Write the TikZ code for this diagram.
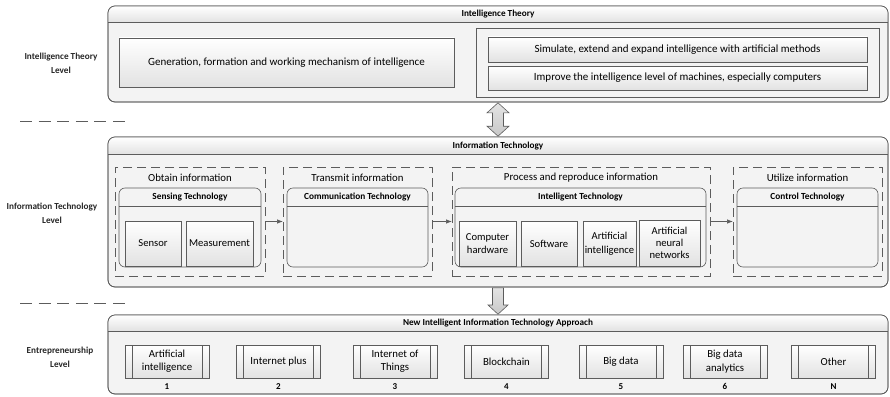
\documentclass[tikz,border=0pt]{standalone}
\usepackage{fontspec}
\setmainfont{Carlito}
\usetikzlibrary{arrows.meta,calc}
\definecolor{edge}{RGB}{92,92,92}
\definecolor{bodyfill}{RGB}{243,243,243}
\definecolor{shadelo}{RGB}{226,226,226}
\definecolor{arrowfill}{RGB}{200,200,200}
\begin{document}
\begin{tikzpicture}[x=1pt,y=-1pt,
  every node/.style={inner sep=0pt, outer sep=0pt, align=center},
  panel/.style={draw=edge, line width=0.7pt, rounded corners=7pt, fill=bodyfill, anchor=north west},
  paneltitle/.style={font=\fontsize{9.2}{10}\selectfont\bfseries},
  levellabel/.style={font=\fontsize{9.2}{13.5}\selectfont\bfseries, text=black!85},
  plainbox/.style={draw=edge, line width=0.6pt, top color=white, bottom color=shadelo, font=\fontsize{11}{13}\selectfont},
  groupbox/.style={draw=edge, line width=0.7pt, dash pattern=on 9pt off 5pt},
  grouptitle/.style={font=\fontsize{10.8}{12}\selectfont},
  techbox/.style={draw=edge, line width=0.6pt, rounded corners=6pt, fill=bodyfill},
  techtitle/.style={font=\fontsize{9.3}{10}\selectfont\bfseries},
  subbox/.style={draw=edge, line width=0.6pt, top color=white, bottom color=shadelo, font=\fontsize{10.6}{13.8}\selectfont},
  procbox/.style={draw=edge, line width=0.6pt, top color=white, bottom color=shadelo,
    minimum width=84pt, minimum height=33pt, font=\fontsize{10.8}{13.3}\selectfont,
    path picture={
      \draw[edge, line width=0.6pt]
        ([xshift=7pt]path picture bounding box.north west) -- ([xshift=7pt]path picture bounding box.south west)
        ([xshift=-7pt]path picture bounding box.north east) -- ([xshift=-7pt]path picture bounding box.south east);}},
  procnum/.style={font=\fontsize{9}{10}\selectfont\bfseries},
  flow/.style={draw=edge, line width=0.7pt, -{Latex[length=6pt,width=4.5pt]}},
  fatarrow/.style={draw=edge, line width=0.6pt, top color=arrowfill!50, bottom color=arrowfill},
  separator/.style={draw=edge, line width=0.8pt, dash pattern=on 12pt off 6.6pt}
]
\useasboundingbox (0,0) rectangle (890,396);

% ---------- three level panels ----------
\node[panel, minimum width=780pt, minimum height=96pt] (itp) at (108,6) {};
\node[panel, minimum width=780pt, minimum height=150pt] (itl) at (108,137) {};
\node[panel, minimum width=780pt, minimum height=79pt] (ent) at (108,315) {};

% shaded header strips
\foreach \p/\h in {itp/16.7, itl/17, ent/16}{
  \begin{scope}
    \clip[rounded corners=7pt] (\p.north west) rectangle (\p.south east);
    \shade[top color=white, bottom color=shadelo] (\p.north west) rectangle ($(\p.north east)+(0,\h)$);
  \end{scope}
  \draw[edge, line width=0.7pt, rounded corners=7pt] (\p.north west) rectangle (\p.south east);
  \draw[edge, line width=0.7pt] ($(\p.north west)+(0,\h)$) -- ($(\p.north east)+(0,\h)$);
}

\node[paneltitle] (itptitle) at (498,14.5) {Intelligence Theory};
\node[paneltitle] (itltitle) at (498,146) {Information Technology};
\node[paneltitle] (enttitle) at (498,323.5) {New Intelligent Information Technology Approach};

% ---------- level labels and separators ----------
\node[levellabel] (lab1) at (61,63.5) {Intelligence Theory\\Level};
\node[levellabel] (lab2) at (52,213.5) {Information Technology\\Level};
\node[levellabel] (lab3) at (60,357.5) {Entrepreneurship\\Level};
\coordinate (sepa1) at (20,121);
\coordinate (sepa2) at (125,121);
\coordinate (sepb1) at (20,303);
\coordinate (sepb2) at (125,303);
\draw[separator] (sepa1) -- (sepa2);
\draw[separator] (sepb1) -- (sepb2);

% ---------- intelligence theory ----------
\node[plainbox, minimum width=335pt, minimum height=49pt] (gen) at (286.5,62.5)
  {Generation, formation and working mechanism of intelligence};
\node[draw=edge, line width=0.6pt, fill=bodyfill, minimum width=403pt, minimum height=69pt] (aim) at (677.5,62.5) {};
\node[plainbox, minimum width=379pt, minimum height=25pt] (sim) at (677.5,49.5)
  {Simulate, extend and expand intelligence with artificial methods};
\node[plainbox, minimum width=379pt, minimum height=24pt] (imp) at (677.5,78)
  {Improve the intelligence level of machines, especially computers};

% ---------- information technology groups ----------
\node[groupbox, minimum width=150pt, minimum height=109pt] (g1) at (190,221.5) {};
\node[groupbox, minimum width=149pt, minimum height=109pt] (g2) at (357.5,221.5) {};
\node[groupbox, minimum width=258pt, minimum height=109pt] (g3) at (581,221.5) {};
\node[groupbox, minimum width=149pt, minimum height=109pt] (g4) at (807.5,221.5) {};
\node[grouptitle] (g1t) at (190,177.5) {Obtain information};
\node[grouptitle] (g2t) at (357.5,177.5) {Transmit information};
\node[grouptitle] (g3t) at (581,177.5) {Process and reproduce information};
\node[grouptitle] (g4t) at (807.5,177.5) {Utilize information};

\foreach \n/\cx/\w/\t in {t1/190/142/Sensing Technology, t2/357.5/141/Communication Technology,
                          t3/580.5/251/Intelligent Technology, t4/807.5/141/Control Technology}{
  \node[techbox, minimum width=\w pt, minimum height=79pt] (\n) at (\cx,227.5) {};
  \draw[edge, line width=0.6pt] ($(\n.north west)+(0,18)$) -- ($(\n.north east)+(0,18)$);
  \node[techtitle] (\n title) at (\cx,197.5) {\t};
}

\node[subbox, minimum width=56pt, minimum height=45pt] (sensor) at (153,243.5) {Sensor};
\node[subbox, minimum width=67pt, minimum height=45pt] (meas) at (219.5,243.5) {Measurement};
\node[subbox, minimum width=57pt, minimum height=45pt] (hw) at (487.5,243.5) {Computer\\hardware};
\node[subbox, minimum width=56pt, minimum height=45pt] (sw) at (549,243.5) {Software};
\node[subbox, minimum width=53pt, minimum height=45pt] (ai) at (609.5,243.5) {Artificial\\intelligence};
\node[subbox, minimum width=61pt, minimum height=46pt, font=\fontsize{10.6}{12.2}\selectfont] (ann) at (669.5,243) {Artificial\\neural\\networks};

\draw[flow] (g1.east) -- (g2.west);
\draw[flow] (g2.east) -- (g3.west);
\draw[flow] (g3.east) -- (g4.west);

% ---------- block arrows between levels ----------
\path[fatarrow] ($(itp.south)+(0,0.8)$) -- ++(11,10) -- ++(-5.5,0) -- ($(itl.north)+(5.5,-10.8)$)
  -- ++(5.5,0) -- ($(itl.north)+(0,-0.8)$) -- ++(-11,-10) -- ++(5.5,0)
  -- ($(itp.south)+(-5.5,10.8)$) -- ++(-5.5,0) -- cycle;
\path[fatarrow] ($(itl.south)+(-5.5,0.8)$) -- ($(ent.north)+(-5.5,-10)$) -- ++(-4.5,0)
  -- ($(ent.north)+(0,-0.8)$) -- ++(10,-9.2) -- ++(-4.5,0) -- ($(itl.south)+(5.5,0.8)$) -- cycle;

% ---------- entrepreneurship approaches ----------
\foreach \n/\cx/\t/\k in {p1/167/{Artificial\\intelligence}/1, p2/278.5/{Internet plus}/2,
                          p3/395/{Internet of\\Things}/3, p4/506.5/Blockchain/4,
                          p5/621/{Big data}/5, p6/725/{Big data\\analytics}/6, p7/833.5/Other/N}{
  \node[procbox] (\n) at (\cx,361.5) {\t};
  \node[procnum] (\n num) at (\cx,386.5) {\k};
}
\end{tikzpicture}
\end{document}
